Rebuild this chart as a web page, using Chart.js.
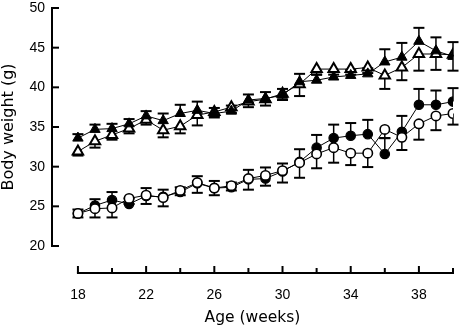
<!DOCTYPE html>
<html>
<head>
<meta charset="utf-8">
<script src="https://cdn.jsdelivr.net/npm/chart.js@4/dist/chart.umd.min.js"></script>
<style>
html,body{margin:0;padding:0;background:#fff;}
canvas{display:block;}
</style>
</head>
<body>
<canvas id="c" width="461" height="325"></canvas>
<script>
// ---- data ----
const weeks = [18,19,20,21,22,23,24,25,26,27,28,29,30,31,32,33,34,35,36,37,38,39,40];

const filledTriangle = [33.6,34.7,34.8,35.4,36.4,35.8,36.7,37.1,36.7,37.0,38.4,38.6,39.0,40.7,40.9,41.3,41.5,41.7,43.2,43.8,45.8,44.6,43.9];
const filledTriangleErr = [0.5,0.6,0.6,0.6,0.6,0.9,1.1,1.1,0.7,0.7,0.7,0.8,0.8,1.0,0.7,0.7,0.7,0.7,1.6,1.8,1.7,1.7,1.8];

const openTriangle = [31.9,33.2,34.0,34.8,35.9,34.6,35.1,36.5,36.9,37.5,38.2,38.5,39.2,40.4,42.3,42.3,42.3,42.5,41.5,42.5,44.2,44.2,44.1];
const openTriangleErr = [0.5,0.8,0.6,0.6,0.6,0.9,0.9,1.3,0.7,0.7,0.7,0.8,0.8,1.5,0.7,0.7,0.7,0.7,1.7,1.6,2.1,2.0,2.0];

const filledCircle = [24.1,25.1,25.8,25.3,26.3,26.2,26.8,27.9,27.3,27.4,28.4,28.5,29.4,30.6,32.4,33.6,33.9,34.1,31.6,34.4,37.8,37.8,38.2];
const filledCircleErr = [0.5,0.8,1.0,0.7,1.0,0.9,0.6,0.9,0.9,0.6,1.2,1.4,1.0,1.6,1.6,1.7,1.6,1.8,2.0,2.0,2.0,1.8,1.7];

const openCircle = [24.1,24.7,24.8,26.0,26.4,26.1,27.0,28.0,27.3,27.6,28.5,28.9,29.5,30.5,31.6,32.4,31.7,31.7,34.7,33.7,35.4,36.4,36.7];
const openCircleErr = [0.5,1.1,1.2,0.7,1.1,1.1,0.6,1.3,0.9,0.6,1.4,1.3,1.5,1.9,1.8,1.9,1.5,1.75,1.1,1.6,2.0,1.8,1.4];

const xTickLabels = [18,22,26,30,34,38];
const xMinorTicks = [20,24,28,32,36,40];
const yTickLabels = [20,25,30,35,40,45,50];

const X_FIRST = 18, X_LAST = 40, Y_MIN = 20, Y_MAX = 50;
const X_AXIS_GAP = 27;

// ---- plugins ----
const errorBars = {
  id: 'errorBars',
  beforeDatasetsDraw(chart) {
    const {ctx, scales: {x, y}} = chart;
    ctx.save();
    ctx.strokeStyle = '#000';
    chart.data.datasets.forEach(ds => {
      ds.data.forEach((p, i) => {
        const e = ds.errors[i];
        const px = x.getPixelForValue(p.x);
        const p0 = y.getPixelForValue(p.y);
        const p1 = y.getPixelForValue(p.y + ds.errDir * e);
        ctx.lineWidth = 1.5;
        ctx.beginPath(); ctx.moveTo(px, p0); ctx.lineTo(px, p1); ctx.stroke();
        ctx.lineWidth = 2;
        ctx.beginPath(); ctx.moveTo(px - 5.5, p1); ctx.lineTo(px + 5.5, p1); ctx.stroke();
      });
    });
    ctx.restore();
  }
};

const axesPlugin = {
  id: 'axesPlugin',
  afterDraw(chart) {
    const {ctx, scales: {x, y}, chartArea} = chart;
    ctx.save();
    ctx.strokeStyle = '#000';
    ctx.lineWidth = 2;
    ctx.lineCap = 'butt';
    // y axis
    const yx = chartArea.left;
    ctx.beginPath();
    ctx.moveTo(yx, y.getPixelForValue(Y_MIN) + 1);
    ctx.lineTo(yx, y.getPixelForValue(Y_MAX) - 1);
    ctx.stroke();
    yTickLabels.forEach(v => {
      const py = y.getPixelForValue(v);
      ctx.beginPath(); ctx.moveTo(yx, py); ctx.lineTo(yx + 7, py); ctx.stroke();
    });
    // x axis
    const xy = chartArea.bottom + X_AXIS_GAP;
    ctx.beginPath();
    ctx.moveTo(x.getPixelForValue(X_FIRST) - 1, xy);
    ctx.lineTo(x.getPixelForValue(X_LAST) + 1, xy);
    ctx.stroke();
    xTickLabels.forEach(v => {
      const px = x.getPixelForValue(v);
      ctx.beginPath(); ctx.moveTo(px, xy); ctx.lineTo(px, xy - 7); ctx.stroke();
    });
    xMinorTicks.forEach(v => {
      const px = x.getPixelForValue(v);
      ctx.beginPath(); ctx.moveTo(px, xy); ctx.lineTo(px, xy - 5); ctx.stroke();
    });
    ctx.restore();
  }
};

function toPts(arr) { return weeks.map((w, i) => ({x: w, y: arr[i]})); }

const common = {
  showLine: true,
  borderColor: '#000',
  borderWidth: 1,
  pointBorderColor: '#000',
  tension: 0
};

const chart = new Chart(document.getElementById('c'), {
  type: 'scatter',
  data: {
    datasets: [
      Object.assign({}, common, {
        label: 'open circle', data: toPts(openCircle), errors: openCircleErr, errDir: -1,
        pointStyle: 'circle', pointRadius: 4.7, pointBackgroundColor: '#fff', pointBorderWidth: 1.6, order: 1
      }),
      Object.assign({}, common, {
        label: 'filled circle', data: toPts(filledCircle), errors: filledCircleErr, errDir: 1,
        pointStyle: 'circle', pointRadius: 4.7, pointBackgroundColor: '#000', pointBorderWidth: 1.2, order: 2
      }),
      Object.assign({}, common, {
        label: 'filled triangle', data: toPts(filledTriangle), errors: filledTriangleErr, errDir: 1,
        pointStyle: 'triangle', pointRadius: 6, pointBackgroundColor: '#000', pointBorderWidth: 1, order: 3
      }),
      Object.assign({}, common, {
        label: 'open triangle', data: toPts(openTriangle), errors: openTriangleErr, errDir: -1,
        pointStyle: 'triangle', pointRadius: 6, pointBackgroundColor: '#fff', pointBorderWidth: 2, order: 4
      })
    ]
  },
  options: {
    responsive: false,
    animation: false,
    devicePixelRatio: 1,
    layout: {padding: {left: 0, right: 7, top: 5, bottom: 0}},
    plugins: {legend: {display: false}, tooltip: {enabled: false}},
    scales: {
      x: {
        type: 'linear',
        min: 16.479,
        max: X_LAST,
        grid: {display: false, drawTicks: false},
        border: {display: false},
        afterBuildTicks: s => { s.ticks = xTickLabels.map(v => ({value: v})); },
        afterFit: s => { s.height = 79; s.paddingLeft = 0; s.paddingRight = 0; },
        ticks: {
          color: '#000', padding: 40.5, maxRotation: 0, autoSkip: false,
          font: {family: '"Liberation Sans", Arial, sans-serif', size: 14}
        },
        title: {
          display: true, text: 'Age (weeks)', color: '#000',
          padding: {top: 0, bottom: -2},
          font: {family: '"DejaVu Sans", sans-serif', size: 15.5, lineHeight: 1.2}
        }
      },
      y: {
        type: 'linear',
        min: Y_MIN,
        max: Y_MAX,
        grid: {display: false, drawTicks: false},
        border: {display: false},
        afterBuildTicks: s => { s.ticks = yTickLabels.map(v => ({value: v})); },
        afterFit: s => { s.width = 52; s.paddingTop = 0; s.paddingBottom = 0; },
        ticks: {
          color: '#000', padding: 7, autoSkip: false,
          font: {family: '"Liberation Sans", Arial, sans-serif', size: 14}
        },
        title: {
          display: true, text: 'Body weight (g)', color: '#000',
          padding: {top: -1, bottom: 0},
          font: {family: '"DejaVu Sans", sans-serif', size: 16, lineHeight: 1.2}
        }
      }
    }
  },
  plugins: [errorBars, axesPlugin]
});
</script>
</body>
</html>
